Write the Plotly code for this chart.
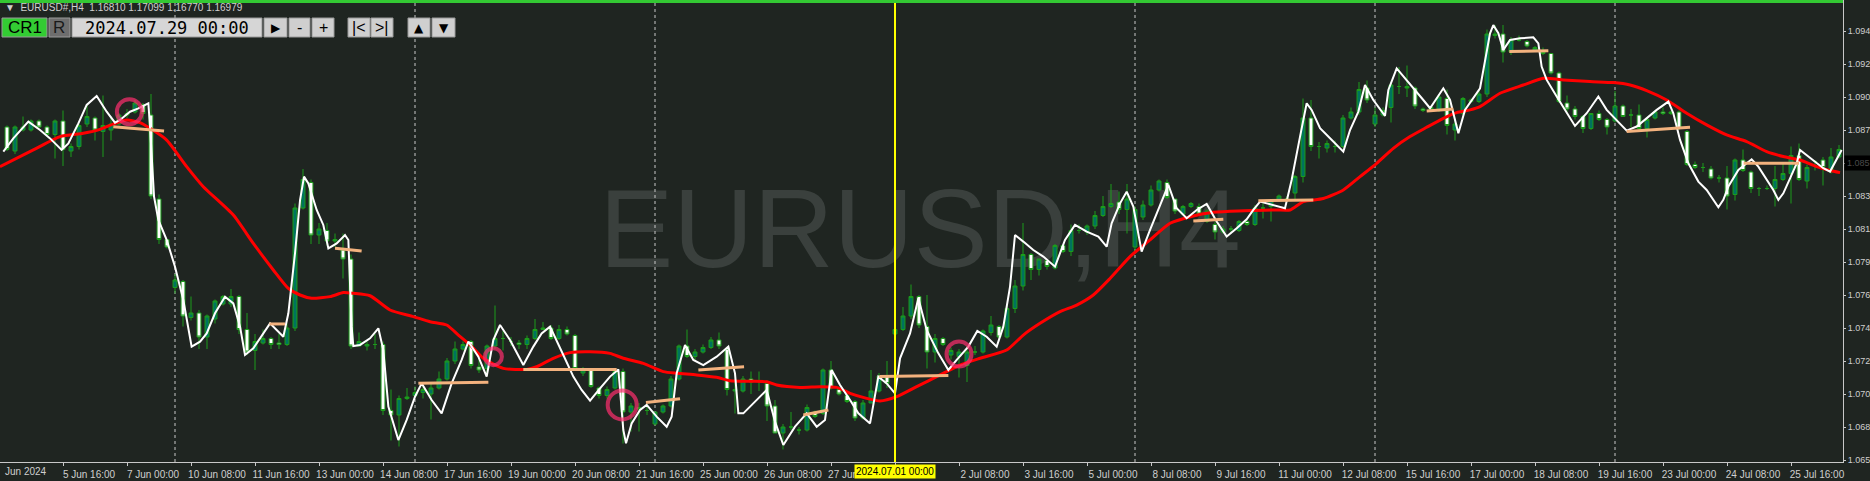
import plotly.graph_objects as go

# EURUSD H4 bars, index 0 = 4 Jun 2024 12:00 ... index 229 = 26 Jul 2024 16:00
bar_open = [1.0881, 1.0865, 1.0879, 1.0879, 1.0885, 1.0881, 1.0876, 1.0885, 1.0865, 1.0868,
            1.0883, 1.0887, 1.0878, 1.0879, 1.0883, 1.0889, 1.0891, 1.0896, 1.0889, 1.0833,
            1.0806, 1.0774, 1.0778, 1.0754, 1.0757, 1.0741, 1.0753, 1.0763, 1.0763, 1.0768,
            1.0746, 1.0732, 1.0737, 1.0740, 1.0737, 1.0736, 1.0747, 1.0827, 1.0844, 1.0809,
            1.0812, 1.0805, 1.0799, 1.0793, 1.0735, 1.0735, 1.0736, 1.0736, 1.0692, 1.0689,
            1.0700, 1.0702, 1.0704, 1.0703, 1.0707, 1.0713, 1.0725, 1.0733, 1.0738, 1.0721,
            1.0720, 1.0735, 1.0740, 1.0738, 1.0737, 1.0736, 1.0740, 1.0746, 1.0747, 1.0740,
            1.0746, 1.0742, 1.0717, 1.0719, 1.0707, 1.0702, 1.0707, 1.0718, 1.0691, 1.0694,
            1.0692, 1.0683, 1.0691, 1.0695, 1.0713, 1.0735, 1.0728, 1.0731, 1.0734, 1.0739,
            1.0733, 1.0705, 1.0705, 1.0713, 1.0712, 1.0710, 1.0695, 1.0677, 1.0681, 1.0679,
            1.0679, 1.0691, 1.0690, 1.0719, 1.0706, 1.0702, 1.0698, 1.0687, 1.0697, 1.0705,
            1.0715, 1.0743, 1.0746, 1.0755, 1.0768, 1.0748, 1.0731, 1.0740, 1.0729, 1.0728,
            1.0722, 1.0731, 1.0731, 1.0744, 1.0748, 1.0741, 1.0760, 1.0775, 1.0796, 1.0786,
            1.0792, 1.0787, 1.0802, 1.0798, 1.0812, 1.0811, 1.0815, 1.0822, 1.0828, 1.0831,
            1.0826, 1.0801, 1.0821, 1.0829, 1.0839, 1.0844, 1.0833, 1.0823, 1.0828, 1.0828,
            1.0818, 1.0816, 1.0811, 1.0813, 1.0812, 1.0818, 1.0816, 1.0827, 1.0828, 1.0832,
            1.0833, 1.0837, 1.0848, 1.0887, 1.0868, 1.0867, 1.0868, 1.0868, 1.0887, 1.0891,
            1.0907, 1.0883, 1.0889, 1.0894, 1.0908, 1.0908, 1.0907, 1.0893, 1.0892, 1.0892,
            1.0900, 1.0879, 1.0890, 1.0898, 1.0898, 1.0903, 1.0942, 1.0943, 1.0931, 1.0939,
            1.0938, 1.0932, 1.0932, 1.0930, 1.0917, 1.0897, 1.0893, 1.0888, 1.0880, 1.0890,
            1.0886, 1.0885, 1.0895, 1.0889, 1.0889, 1.0880, 1.0887, 1.0891, 1.0890, 1.0891,
            1.0878, 1.0856, 1.0854, 1.0853, 1.0847, 1.0847, 1.0836, 1.0859, 1.0851, 1.0840,
            1.0840, 1.0840, 1.0846, 1.0850, 1.0862, 1.0845, 1.0858, 1.0859, 1.0851, 1.0861]
bar_high = [1.0882, 1.0882, 1.0888, 1.0886, 1.0886, 1.0882, 1.0886, 1.0892, 1.0870, 1.0883,
            1.0896, 1.0888, 1.0902, 1.0888, 1.0890, 1.0893, 1.0899, 1.0897, 1.0903, 1.0836,
            1.0806, 1.0783, 1.0779, 1.0768, 1.0759, 1.0756, 1.0766, 1.0769, 1.0773, 1.0769,
            1.0757, 1.0743, 1.0746, 1.0741, 1.0743, 1.0750, 1.0830, 1.0853, 1.0846, 1.0817,
            1.0817, 1.0810, 1.0810, 1.0796, 1.0744, 1.0738, 1.0743, 1.0738, 1.0706, 1.0702,
            1.0707, 1.0708, 1.0708, 1.0710, 1.0718, 1.0727, 1.0738, 1.0738, 1.0739, 1.0727,
            1.0736, 1.0762, 1.0745, 1.0741, 1.0739, 1.0742, 1.0753, 1.0751, 1.0749, 1.0749,
            1.0748, 1.0743, 1.0721, 1.0720, 1.0708, 1.0708, 1.0720, 1.0720, 1.0697, 1.0697,
            1.0696, 1.0691, 1.0696, 1.0715, 1.0736, 1.0746, 1.0733, 1.0736, 1.0741, 1.0744,
            1.0734, 1.0713, 1.0715, 1.0718, 1.0718, 1.0712, 1.0699, 1.0683, 1.0691, 1.0681,
            1.0696, 1.0692, 1.0720, 1.0725, 1.0708, 1.0704, 1.0699, 1.0699, 1.0719, 1.0717,
            1.0725, 1.0750, 1.0761, 1.0776, 1.0769, 1.0769, 1.0743, 1.0741, 1.0734, 1.0733,
            1.0735, 1.0735, 1.0746, 1.0755, 1.0749, 1.0762, 1.0779, 1.0817, 1.0797, 1.0793,
            1.0793, 1.0803, 1.0803, 1.0816, 1.0816, 1.0816, 1.0825, 1.0835, 1.0843, 1.0838,
            1.0843, 1.0828, 1.0832, 1.0842, 1.0846, 1.0846, 1.0833, 1.0829, 1.0831, 1.0830,
            1.0826, 1.0818, 1.0815, 1.0815, 1.0819, 1.0819, 1.0829, 1.0830, 1.0833, 1.0836,
            1.0835, 1.0849, 1.0900, 1.0899, 1.0871, 1.0872, 1.0872, 1.0889, 1.0894, 1.0911,
            1.0912, 1.0894, 1.0894, 1.0910, 1.0921, 1.0922, 1.0908, 1.0894, 1.0895, 1.0903,
            1.0906, 1.0886, 1.0901, 1.0900, 1.0905, 1.0946, 1.0949, 1.0949, 1.0941, 1.0942,
            1.0939, 1.0935, 1.0934, 1.0930, 1.0918, 1.0902, 1.0895, 1.0889, 1.0890, 1.0892,
            1.0887, 1.0905, 1.0896, 1.0893, 1.0896, 1.0887, 1.0892, 1.0894, 1.0892, 1.0892,
            1.0879, 1.0858, 1.0857, 1.0855, 1.0849, 1.0855, 1.0860, 1.0866, 1.0852, 1.0841,
            1.0842, 1.0855, 1.0857, 1.0868, 1.0870, 1.0856, 1.0859, 1.0861, 1.0867, 1.0869]
bar_low = [1.0865, 1.0863, 1.0878, 1.0878, 1.0881, 1.0876, 1.0860, 1.0855, 1.0861, 1.0866,
           1.0881, 1.0872, 1.0861, 1.0872, 1.0882, 1.0887, 1.0890, 1.0886, 1.0833, 1.0803,
           1.0800, 1.0770, 1.0748, 1.0752, 1.0733, 1.0733, 1.0750, 1.0762, 1.0761, 1.0743,
           1.0729, 1.0719, 1.0736, 1.0733, 1.0733, 1.0735, 1.0745, 1.0826, 1.0803, 1.0803,
           1.0802, 1.0801, 1.0780, 1.0733, 1.0735, 1.0732, 1.0733, 1.0689, 1.0672, 1.0668,
           1.0699, 1.0701, 1.0700, 1.0686, 1.0706, 1.0712, 1.0723, 1.0732, 1.0720, 1.0717,
           1.0716, 1.0733, 1.0732, 1.0735, 1.0733, 1.0733, 1.0739, 1.0746, 1.0739, 1.0739,
           1.0742, 1.0719, 1.0715, 1.0707, 1.0700, 1.0700, 1.0706, 1.0670, 1.0678, 1.0678,
           1.0689, 1.0682, 1.0690, 1.0694, 1.0712, 1.0727, 1.0725, 1.0730, 1.0733, 1.0733,
           1.0702, 1.0690, 1.0704, 1.0703, 1.0705, 1.0685, 1.0677, 1.0666, 1.0679, 1.0676,
           1.0678, 1.0687, 1.0689, 1.0706, 1.0702, 1.0697, 1.0685, 1.0686, 1.0697, 1.0704,
           1.0707, 1.0742, 1.0745, 1.0753, 1.0747, 1.0720, 1.0724, 1.0735, 1.0726, 1.0714,
           1.0711, 1.0729, 1.0730, 1.0742, 1.0740, 1.0740, 1.0757, 1.0772, 1.0779, 1.0782,
           1.0786, 1.0786, 1.0797, 1.0795, 1.0810, 1.0809, 1.0813, 1.0821, 1.0827, 1.0823,
           1.0810, 1.0798, 1.0819, 1.0828, 1.0838, 1.0833, 1.0823, 1.0822, 1.0827, 1.0822,
           1.0817, 1.0806, 1.0810, 1.0811, 1.0811, 1.0815, 1.0815, 1.0820, 1.0818, 1.0831,
           1.0831, 1.0832, 1.0844, 1.0865, 1.0860, 1.0864, 1.0864, 1.0867, 1.0886, 1.0889,
           1.0897, 1.0881, 1.0888, 1.0884, 1.0903, 1.0901, 1.0893, 1.0891, 1.0891, 1.0891,
           1.0876, 1.0872, 1.0889, 1.0897, 1.0897, 1.0901, 1.0940, 1.0924, 1.0929, 1.0938,
           1.0934, 1.0931, 1.0929, 1.0916, 1.0897, 1.0891, 1.0886, 1.0877, 1.0879, 1.0885,
           1.0876, 1.0884, 1.0888, 1.0881, 1.0878, 1.0874, 1.0886, 1.0889, 1.0889, 1.0879,
           1.0855, 1.0853, 1.0851, 1.0846, 1.0844, 1.0826, 1.0832, 1.0851, 1.0837, 1.0835,
           1.0839, 1.0828, 1.0845, 1.0830, 1.0845, 1.0840, 1.0852, 1.0842, 1.0850, 1.0860]
bar_close = [1.0866, 1.0881, 1.0881, 1.0885, 1.0881, 1.0876, 1.0885, 1.0866, 1.0868, 1.0882,
             1.0888, 1.0879, 1.0882, 1.0883, 1.0889, 1.0890, 1.0897, 1.0890, 1.0835, 1.0806,
             1.0801, 1.0779, 1.0755, 1.0757, 1.0741, 1.0755, 1.0765, 1.0768, 1.0768, 1.0746,
             1.0731, 1.0738, 1.0740, 1.0736, 1.0736, 1.0747, 1.0827, 1.0846, 1.0809, 1.0813,
             1.0805, 1.0806, 1.0793, 1.0735, 1.0738, 1.0736, 1.0736, 1.0692, 1.0689, 1.0700,
             1.0701, 1.0704, 1.0706, 1.0707, 1.0713, 1.0725, 1.0733, 1.0736, 1.0722, 1.0719,
             1.0735, 1.0740, 1.0740, 1.0738, 1.0736, 1.0740, 1.0746, 1.0747, 1.0740, 1.0746,
             1.0743, 1.0720, 1.0719, 1.0708, 1.0702, 1.0706, 1.0718, 1.0691, 1.0695, 1.0693,
             1.0692, 1.0691, 1.0695, 1.0713, 1.0735, 1.0728, 1.0731, 1.0734, 1.0739, 1.0735,
             1.0706, 1.0706, 1.0713, 1.0711, 1.0712, 1.0695, 1.0677, 1.0681, 1.0681, 1.0679,
             1.0694, 1.0688, 1.0719, 1.0707, 1.0703, 1.0698, 1.0687, 1.0697, 1.0705, 1.0715,
             1.0710, 1.0746, 1.0755, 1.0768, 1.0749, 1.0731, 1.0740, 1.0736, 1.0732, 1.0731,
             1.0731, 1.0731, 1.0745, 1.0749, 1.0741, 1.0760, 1.0775, 1.0796, 1.0786, 1.0793,
             1.0788, 1.0802, 1.0798, 1.0812, 1.0812, 1.0815, 1.0822, 1.0828, 1.0830, 1.0826,
             1.0833, 1.0826, 1.0829, 1.0839, 1.0845, 1.0834, 1.0825, 1.0828, 1.0830, 1.0823,
             1.0825, 1.0811, 1.0813, 1.0813, 1.0818, 1.0816, 1.0827, 1.0827, 1.0832, 1.0835,
             1.0833, 1.0848, 1.0887, 1.0868, 1.0868, 1.0870, 1.0868, 1.0887, 1.0891, 1.0906,
             1.0899, 1.0889, 1.0892, 1.0909, 1.0908, 1.0907, 1.0895, 1.0892, 1.0894, 1.0901,
             1.0882, 1.0883, 1.0900, 1.0899, 1.0903, 1.0943, 1.0943, 1.0931, 1.0939, 1.0939,
             1.0935, 1.0934, 1.0930, 1.0917, 1.0898, 1.0893, 1.0888, 1.0880, 1.0890, 1.0886,
             1.0881, 1.0895, 1.0888, 1.0889, 1.0880, 1.0886, 1.0891, 1.0890, 1.0891, 1.0880,
             1.0856, 1.0854, 1.0854, 1.0847, 1.0847, 1.0835, 1.0859, 1.0852, 1.0840, 1.0840,
             1.0840, 1.0846, 1.0850, 1.0862, 1.0846, 1.0854, 1.0858, 1.0854, 1.0861, 1.0866]
bar_idx = list(range(len(bar_close)))

# white fast line (vertices)
fast_x = [-0.46, 0.79, 2.67, 4.13, 5.38, 6.83, 7.67, 8.92, 9.96, 11.21, 12.46, 13.5, 14.13, 15.38, 16.42,
          17.25, 17.67, 17.88, 18.38, 18.92, 19.96, 21.0, 22.04, 23.08, 24.13, 24.96, 26.0, 27.25, 28.29,
          29.13, 29.75, 30.79, 32.04, 32.88, 33.71, 34.54, 35.17, 36.0, 36.63, 37.13, 37.67, 38.71, 39.54,
          40.17, 41.21, 42.25, 42.67, 43.08, 43.29, 44.13, 45.38, 46.42, 47.04, 47.67, 48.92, 49.96, 51.0,
          51.83, 53.08, 54.33, 55.58, 56.83, 57.67, 58.92, 59.96, 60.79, 61.63, 62.88, 64.54, 65.79, 66.83,
          67.88, 69.54, 70.79, 71.83, 72.88, 74.13, 75.38, 76.42, 77.04, 77.38, 78.08, 79.13, 79.96, 81.21,
          82.46, 83.08, 83.71, 84.75, 85.79, 87.04, 88.71, 90.17, 91.0, 91.42, 92.04, 92.88, 93.29, 94.96,
          96.0, 97.04, 98.5, 99.96, 101.21, 102.25, 103.08, 104.13, 105.38, 106.42, 107.88, 108.92, 109.96,
          111.0, 111.63, 112.88, 113.92, 114.96, 116.42, 117.67, 118.71, 120.17, 121.29, 122.46, 123.71,
          124.54, 125.38, 126.0, 127.04, 128.29, 129.54, 131.0, 132.25, 133.5, 134.96, 136.42, 137.46,
          138.08, 139.13, 139.96, 140.79, 141.83, 142.88, 144.13, 145.17, 146.21, 147.46, 148.71, 149.96,
          151.21, 152.46, 153.71, 154.96, 155.79, 156.63, 159.75, 160.58, 161.63, 162.46, 163.08, 164.13,
          165.38, 167.04, 167.88, 168.92, 169.75, 170.79, 172.25, 172.67, 173.71, 174.96, 176.21, 177.04,
          177.88, 179.54, 180.38, 181.42, 182.25, 183.08, 184.13, 185.38, 185.79, 186.42, 187.04, 187.88,
          189.13, 190.79, 191.42, 191.83, 192.46, 193.71, 194.96, 196.0, 197.46, 198.92, 199.96, 201.21,
          202.46, 203.71, 204.96, 206.21, 207.67, 208.29, 209.13, 210.17, 211.42, 212.46, 213.92, 214.54,
          215.17, 216.42, 217.46, 218.08, 218.92, 219.96, 220.79, 221.42, 222.04, 222.88, 223.71, 224.13,
          225.17, 226.21, 227.04, 227.88, 228.71, 229.33]
fast_y = [1.08646, 1.08734, 1.08846, 1.08790, 1.08734, 1.08657, 1.08701, 1.08834, 1.08957, 1.09017,
          1.08912, 1.08839, 1.08857, 1.08912, 1.08934, 1.08957, 1.08968, 1.08812, 1.08346, 1.08190,
          1.08057, 1.07879, 1.07657, 1.07346, 1.07379, 1.07434, 1.07568, 1.07679, 1.07634, 1.07479,
          1.07290, 1.07334, 1.07434, 1.07501, 1.07457, 1.07412, 1.07568, 1.07968, 1.08323, 1.08479,
          1.08434, 1.08257, 1.08157, 1.08001, 1.08034, 1.08090, 1.08057, 1.07479, 1.07350, 1.07357,
          1.07401, 1.07468, 1.07323, 1.06946, 1.06723, 1.06857, 1.07012, 1.07101, 1.06990, 1.06901,
          1.07101, 1.07257, 1.07379, 1.07279, 1.07146, 1.07390, 1.07490, 1.07390, 1.07223, 1.07346,
          1.07434, 1.07479, 1.07290, 1.07146, 1.07057, 1.06986, 1.07068, 1.07146, 1.07194, 1.06790,
          1.06701, 1.06834, 1.06923, 1.06957, 1.06879, 1.06812, 1.06879, 1.07168, 1.07357, 1.07257,
          1.07223, 1.07279, 1.07346, 1.07168, 1.06901, 1.06901, 1.06946, 1.06968, 1.07057, 1.06846,
          1.06690, 1.06812, 1.06901, 1.06812, 1.06857, 1.07190, 1.07090, 1.06990, 1.06901, 1.06834,
          1.07146, 1.07101, 1.07034, 1.07268, 1.07434, 1.07668, 1.07457, 1.07301, 1.07190, 1.07257,
          1.07346, 1.07450, 1.07412, 1.07346, 1.07479, 1.07746, 1.08090, 1.08046, 1.07990, 1.07946,
          1.07879, 1.08057, 1.08157, 1.08112, 1.08079, 1.08012, 1.08168, 1.08301, 1.08379, 1.08279,
          1.07979, 1.08124, 1.08290, 1.08424, 1.08268, 1.08202, 1.08257, 1.08297, 1.08180, 1.08080,
          1.08135, 1.08195, 1.08257, 1.08313, 1.08268, 1.08457, 1.08746, 1.08968, 1.08924, 1.08802,
          1.08735, 1.08646, 1.08790, 1.08913, 1.09090, 1.08990, 1.08884, 1.09057, 1.09201, 1.09124,
          1.09046, 1.08990, 1.08935, 1.09068, 1.08990, 1.08768, 1.08924, 1.08990, 1.09068, 1.09435,
          1.09490, 1.09435, 1.09324, 1.09390, 1.09401, 1.09408, 1.09368, 1.09213, 1.09124, 1.09013,
          1.08902, 1.08817, 1.08902, 1.09013, 1.08924, 1.08857, 1.08786, 1.08813, 1.08868, 1.08924,
          1.08979, 1.08902, 1.08724, 1.08568, 1.08446, 1.08390, 1.08275, 1.08324, 1.08413, 1.08524,
          1.08568, 1.08595, 1.08546, 1.08457, 1.08390, 1.08324, 1.08368, 1.08468, 1.08568, 1.08657,
          1.08613, 1.08568, 1.08535, 1.08513, 1.08590, 1.08657]

# red slow moving average (vertices)
slow_x = [-0.88, 3.29, 6.63, 9.54, 11.63, 13.5, 14.96, 16.63, 17.88, 19.96, 22.46, 24.54, 28.29, 30.79,
          33.29, 35.17, 36.63, 38.08, 40.38, 42.04, 43.29, 45.38, 47.88, 50.79, 52.88, 54.96, 56.42, 57.88,
          59.54, 62.04, 64.96, 66.21, 68.29, 70.38, 72.88, 75.38, 77.04, 79.54, 82.04, 83.71, 86.21, 88.71,
          90.38, 92.88, 94.96, 96.21, 99.13, 101.63, 103.71, 105.38, 107.46, 109.13, 111.21, 113.71, 116.63,
          119.13, 121.63, 124.96, 127.04, 129.13, 131.63, 133.71, 135.79, 137.88, 140.38, 142.88, 145.38,
          148.29, 150.38, 152.88, 155.79, 158.71, 160.38, 162.04, 164.54, 167.04, 169.13, 171.21, 173.29,
          175.38, 177.46, 179.54, 181.21, 182.88, 184.13, 186.63, 189.54, 192.04, 194.54, 197.88, 200.79,
          202.88, 204.96, 207.46, 209.96, 212.46, 214.96, 217.46, 219.96, 222.04, 224.13, 226.21, 227.88,
          229.13]
slow_y = [1.08546, 1.08657, 1.08746, 1.08768, 1.08794, 1.08834, 1.08857, 1.08839, 1.08801, 1.08723,
          1.08546, 1.08412, 1.08223, 1.08034, 1.07857, 1.07734, 1.07690, 1.07668, 1.07679, 1.07706,
          1.07701, 1.07685, 1.07590, 1.07546, 1.07512, 1.07490, 1.07423, 1.07357, 1.07268, 1.07201,
          1.07194, 1.07212, 1.07268, 1.07306, 1.07312, 1.07301, 1.07268, 1.07234, 1.07179, 1.07168,
          1.07157, 1.07141, 1.07119, 1.07115, 1.07112, 1.07090, 1.07074, 1.07079, 1.07074, 1.07034,
          1.07001, 1.06983, 1.07012, 1.07079, 1.07157, 1.07223, 1.07268, 1.07323, 1.07423, 1.07501,
          1.07579, 1.07623, 1.07690, 1.07800, 1.07946, 1.08057, 1.08168, 1.08217, 1.08239, 1.08248,
          1.08253, 1.08257, 1.08257, 1.08313, 1.08333, 1.08390, 1.08479, 1.08568, 1.08668, 1.08746,
          1.08808, 1.08868, 1.08906, 1.08924, 1.08946, 1.09035, 1.09090, 1.09135, 1.09124, 1.09113,
          1.09106, 1.09090, 1.09053, 1.08990, 1.08902, 1.08824, 1.08757, 1.08713, 1.08646, 1.08613,
          1.08590, 1.08546, 1.08520, 1.08506]

# short horizontal level segments (orange)
level_x0 = [13.29, 32.8, 41.0, 51.42, 64.54, 79.87, 86.42, 99.54, 109.04, 148.29, 156.42, 177.46, 187.79, 202.46, 217.08]
level_x1 = [19.63, 34.75, 44.33, 60.17, 76.21, 84.13, 92.13, 102.67, 117.67, 152.04, 163.29, 180.79, 192.67, 210.38, 224.0]
level_y0 = [1.08812, 1.07497, 1.08001, 1.07101, 1.07194, 1.06974, 1.07190, 1.06890, 1.07146, 1.08184, 1.08319, 1.08917, 1.09313, 1.08780, 1.08568]
level_y1 = [1.08783, 1.07497, 1.07983, 1.07108, 1.07194, 1.06999, 1.07212, 1.06923, 1.07154, 1.08195, 1.08324, 1.08930, 1.09319, 1.08808, 1.08568]

# signal circles
signal_x = [15.3, 60.8, 76.9, 119.0]
signal_y = [1.08912, 1.07279, 1.06957, 1.07297]
signal_size = [25, 17, 29, 25]

week_start_idx = [21, 51, 81, 141, 171, 201]
marked_idx = 111  # 2024.07.01 00:00
tick_idx = list(range(7, 224, 8))
tick_text = ["5 Jun 16:00", "7 Jun 00:00", "10 Jun 08:00", "11 Jun 16:00", "13 Jun 00:00", "14 Jun 08:00",
             "17 Jun 16:00", "19 Jun 00:00", "20 Jun 08:00", "21 Jun 16:00", "25 Jun 00:00", "26 Jun 08:00",
             "27 Jun 16:00", "", "2 Jul 08:00", "3 Jul 16:00", "5 Jul 00:00", "8 Jul 08:00",
             "9 Jul 16:00", "11 Jul 00:00", "12 Jul 08:00", "15 Jul 16:00", "17 Jul 00:00", "18 Jul 08:00",
             "19 Jul 16:00", "23 Jul 00:00", "24 Jul 08:00", "25 Jul 16:00"]
price_ticks = [1.0945, 1.0923, 1.0901, 1.0879, 1.0857, 1.0835, 1.0813, 1.0791, 1.0769, 1.0747,
               1.0725, 1.0703, 1.0681, 1.0659]
price_text = ["1.094", "1.092", "1.090", "1.087", "", "1.083", "1.081", "1.079", "1.076", "1.074",
              "1.072", "1.070", "1.068", "1.065"]
bid_price = 1.0857

BG = "#1f2521"
GRID = "#c8c8c8"
TXT = "#cfcfcf"
W, H = 1870, 481
PW, PH = 1843, 462  # plot area in px


def px(x):
    return x / PW


def py(y):
    return 1 - y / PH


fig = go.Figure()

fig.add_trace(go.Candlestick(
    x=bar_idx, open=bar_open, high=bar_high, low=bar_low, close=bar_close,
    increasing=dict(fillcolor="#00735e", line=dict(color="#1c9c1c", width=1)),
    decreasing=dict(fillcolor="#ffffff", line=dict(color="#1c9c1c", width=1)),
    whiskerwidth=0, hoverinfo="skip"))

fig.add_trace(go.Scatter(x=slow_x, y=slow_y, mode="lines",
                         line=dict(color="#ff0000", width=3, shape="spline", smoothing=0.6),
                         hoverinfo="skip"))
fig.add_trace(go.Scatter(x=fast_x, y=fast_y, mode="lines",
                         line=dict(color="#ffffff", width=2), hoverinfo="skip"))

seg_x, seg_y = [], []
for a, b, c, d in zip(level_x0, level_x1, level_y0, level_y1):
    seg_x += [a, b, None]
    seg_y += [c, d, None]
fig.add_trace(go.Scatter(x=seg_x, y=seg_y, mode="lines",
                         line=dict(color="#f3b27e", width=3), hoverinfo="skip"))

fig.add_trace(go.Scatter(x=signal_x, y=signal_y, mode="markers",
                         marker=dict(symbol="circle-open", size=signal_size, color="#ff2d6f",
                                     line=dict(color="#ff2d6f", width=4)),
                         hoverinfo="skip"))

shapes = []
# watermark below everything
shapes.append(dict(type="rect", xref="paper", yref="paper", x0=px(590), x1=px(1250), y0=py(288), y1=py(148),
                   line=dict(width=0), fillcolor="rgba(0,0,0,0)", layer="below",
                   label=dict(text="EURUSD,H4", textposition="middle center",
                              font=dict(size=111, color="#3a403d", family="Liberation Sans"))))
for w in week_start_idx:
    shapes.append(dict(type="line", xref="x", yref="paper", x0=w, x1=w, y0=0, y1=1,
                       line=dict(color=GRID, width=1, dash="dot"), layer="below"))
shapes.append(dict(type="line", xref="x", yref="paper", x0=marked_idx, x1=marked_idx, y0=0, y1=1,
                   line=dict(color="#ffff00", width=2), layer="above"))
shapes.append(dict(type="rect", xref="paper", yref="paper", x0=0, x1=1, y0=py(3), y1=1,
                   line=dict(width=0), fillcolor="#33c933", layer="above"))

# toolbar buttons
buttons = [
    (2, 47, "#33cc33", "CR1", "#000000", 17, "Liberation Sans"),
    (49, 70, "#6e6e6e", "R", "#1a1a1a", 17, "Liberation Sans"),
    (72, 262, "#d6d6d6", "2024.07.29 00:00", "#000000", 17, "DejaVu Sans Mono"),
    (264, 287, "#cfcfcf", "▶", "#000000", 12, "DejaVu Sans"),
    (289, 310, "#cfcfcf", "-", "#000000", 16, "Liberation Sans"),
    (312, 334, "#cfcfcf", "+", "#000000", 16, "Liberation Sans"),
    (348, 370, "#cfcfcf", "|<", "#000000", 16, "Liberation Sans"),
    (371, 393, "#cfcfcf", ">|", "#000000", 16, "Liberation Sans"),
    (408, 430, "#cfcfcf", "▲", "#000000", 12, "DejaVu Sans"),
    (432, 455, "#cfcfcf", "▼", "#000000", 12, "DejaVu Sans"),
]
annotations = []
for x0, x1, fill, txt, tc, fs, fam in buttons:
    shapes.append(dict(type="rect", xref="paper", yref="paper", x0=px(x0), x1=px(x1), y0=py(37), y1=py(18),
                       line=dict(color="#9a9a9a", width=1), fillcolor=fill, layer="above"))
    annotations.append(dict(xref="paper", yref="paper", x=px((x0 + x1) / 2), y=py(27.5), text=txt,
                            showarrow=False, xanchor="center", yanchor="middle",
                            font=dict(size=fs, color=tc, family=fam)))

annotations.append(dict(xref="paper", yref="paper", x=px(3), y=py(8), xanchor="left", yanchor="middle",
                        showarrow=False, text="▼  EURUSD#,H4  1.16810 1.17099 1.16770 1.16979",
                        font=dict(size=10, color=TXT, family="Liberation Sans")))
annotations.append(dict(xref="paper", yref="paper", x=px(3), y=py(471), xanchor="left", yanchor="middle",
                        showarrow=False, text="Jun 2024",
                        font=dict(size=10, color=TXT, family="Liberation Sans")))
annotations.append(dict(xref="x", yref="paper", x=marked_idx, y=py(471), xanchor="center", yanchor="middle",
                        showarrow=False, text="2024.07.01 00:00", bgcolor="#ffff00", borderpad=1,
                        font=dict(size=10, color="#000000", family="Liberation Sans")))
annotations.append(dict(xref="paper", yref="y", x=1, xshift=1, y=bid_price, xanchor="left", yanchor="middle",
                        showarrow=False, text="1.085", bgcolor="#000000", borderpad=2,
                        font=dict(size=9, color="#4a4a4a", family="Liberation Sans")))

fig.update_layout(
    width=W, height=H,
    margin=dict(l=0, r=W - PW, t=0, b=H - PH, autoexpand=False),
    paper_bgcolor=BG, plot_bgcolor=BG,
    showlegend=False, hovermode=False,
    shapes=shapes, annotations=annotations,
    xaxis=dict(range=[-0.875, 229.5], rangeslider=dict(visible=False), showgrid=False, zeroline=False,
               automargin=False, showline=True, linecolor=GRID, linewidth=1,
               tickmode="array", tickvals=tick_idx, ticktext=tick_text,
               ticks="outside", ticklen=3, tickcolor=GRID, ticklabelshift=26, ticklabelstandoff=0,
               tickfont=dict(size=10, color=TXT, family="Liberation Sans")),
    yaxis=dict(range=[1.065767, 1.096567], side="right", showgrid=False, zeroline=False,
               automargin=False, showline=True, linecolor=GRID, linewidth=1, mirror=True,
               tickmode="array", tickvals=price_ticks, ticktext=price_text,
               ticks="outside", ticklen=2, tickcolor=GRID, ticklabelstandoff=0,
               tickfont=dict(size=9, color=TXT, family="Liberation Sans")),
)

# the page body has a default 8px margin; drop it so the figure fills the window
fig.write_html("out.html", config={"displayModeBar": False},
               post_script="document.body.style.margin='0';document.body.style.overflow='hidden';")
